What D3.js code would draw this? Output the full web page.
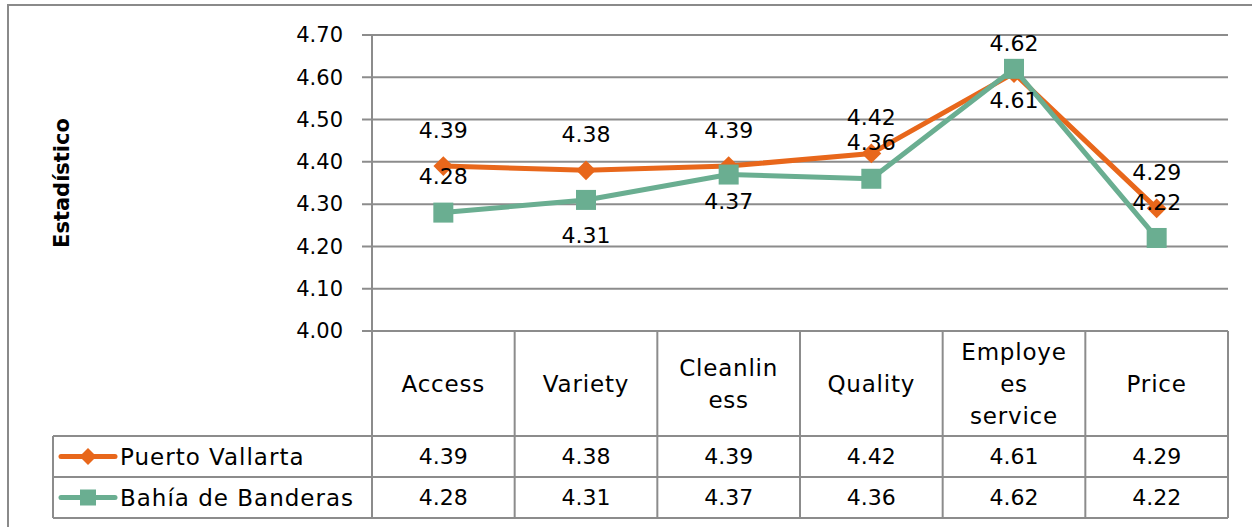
<!DOCTYPE html>
<html><head><meta charset="utf-8">
<script src="https://cdn.jsdelivr.net/npm/d3@7"></script>
<style>body{margin:0;background:#fff}svg{display:block}text{font-family:"DejaVu Sans",sans-serif}</style>
</head><body>
<svg id="c" width="1252" height="527"></svg>
<script>
const categories = ["Access","Variety","Cleanliness","Quality","Employees service","Price"];
const categoryLines = [["Access"],["Variety"],["Cleanlin","ess"],["Quality"],["Employe","es","service"],["Price"]];
const seriesNames = ["Puerto Vallarta","Bahía de Banderas"];
const puertoVallarta = [4.39,4.38,4.39,4.42,4.61,4.29];
const bahiaBanderas = [4.28,4.31,4.37,4.36,4.62,4.22];
const yTicks = [4.00,4.10,4.20,4.30,4.40,4.50,4.60,4.70];
// data label placement relative to the point
const pvLabelPos = ["above","above","above","above","below-near","above"];
const bbLabelPos = ["above","below","below-near","above","above-near","above"];

const svg = d3.select("#c");
const L = 372, R = 1228, T = 35, B = 331;
const fs = 22;
const grid = "#8c8c8c";
const orange = "#E8671B", green = "#6AAE91";
const labelDy = {"above":-36,"below":35,"above-near":-26,"below-near":27};

svg.append("rect").attr("x",8).attr("y",5).attr("width",1260).attr("height",540)
  .attr("fill","none").attr("stroke","#8a8a8a").attr("stroke-width",2);

const x = d3.scaleBand().domain(categories).range([L,R]);
const y = d3.scaleLinear().domain([4.0,4.7]).range([B,T]);

// gridlines
svg.append("g").selectAll("line").data(yTicks).join("line")
  .attr("x1",L-10).attr("x2",R).attr("y1",d=>y(d)).attr("y2",d=>y(d))
  .attr("stroke",grid).attr("stroke-width",2);

// y axis
const yAxis = d3.axisLeft(y).tickValues(yTicks).tickFormat(d3.format(".2f")).tickSize(0).tickPadding(29);
const ga = svg.append("g").attr("transform",`translate(${L},0)`).call(yAxis);
ga.select(".domain").remove();
ga.selectAll("text").attr("font-size",21).attr("fill","#000").attr("font-family","DejaVu Sans");
svg.append("line").attr("x1",L).attr("x2",L).attr("y1",T).attr("y2",B).attr("stroke",grid).attr("stroke-width",2);

svg.append("text").attr("transform",`translate(69,183) rotate(-90)`).attr("text-anchor","middle")
  .attr("font-size",21).attr("font-weight","bold").text("Estadístico");

// table
const rowTop = [436,477,518];
const tbl = svg.append("g");
const vlines = categories.map(c=>x(c)).concat([R]);
tbl.selectAll("line.v").data(vlines).join("line").attr("class","v")
  .attr("x1",d=>d).attr("x2",d=>d).attr("y1",B).attr("y2",rowTop[2]).attr("stroke",grid).attr("stroke-width",2);
tbl.append("line").attr("x1",L).attr("x2",R).attr("y1",B).attr("y2",B).attr("stroke",grid).attr("stroke-width",2);
tbl.selectAll("line.h").data(rowTop).join("line").attr("class","h")
  .attr("x1",53).attr("x2",R).attr("y1",d=>d).attr("y2",d=>d).attr("stroke",grid).attr("stroke-width",2);
tbl.append("line").attr("x1",53).attr("x2",53).attr("y1",rowTop[0]).attr("y2",rowTop[2]).attr("stroke",grid).attr("stroke-width",2);

// category labels
const lh = 32;
categories.forEach((c,i)=>{
  const lines = categoryLines[i];
  const cy = 384 - (lines.length-1)*lh/2;
  const t = tbl.append("text").attr("text-anchor","middle").attr("font-size",23).attr("letter-spacing",0.8);
  lines.forEach((ln,j)=>t.append("tspan").attr("x",x(c)+x.bandwidth()/2).attr("y",cy+j*lh).attr("dy","0.35em").text(ln));
});

const series = [
  {name:seriesNames[0], values:puertoVallarta, color:orange, shape:"diamond", pos:pvLabelPos},
  {name:seriesNames[1], values:bahiaBanderas, color:green, shape:"square", pos:bbLabelPos}
];

series.forEach((s,k)=>{
  const rowY = (rowTop[k]+rowTop[k+1])/2;
  const lg = tbl.append("g");
  lg.append("line").attr("x1",61).attr("x2",115).attr("y1",rowY).attr("y2",rowY).attr("stroke",s.color).attr("stroke-width",5).attr("stroke-linecap","round");
  if (s.shape==="diamond") lg.append("rect").attr("x",-6).attr("y",-6).attr("width",12).attr("height",12)
      .attr("transform",`translate(88,${rowY}) rotate(45)`).attr("fill",s.color);
  else lg.append("rect").attr("x",80).attr("y",rowY-8).attr("width",16).attr("height",16).attr("fill",s.color);
  lg.append("text").attr("x",120).attr("y",rowY).attr("dy","0.35em").attr("font-size",23).attr("letter-spacing",1).text(s.name);
  categories.forEach((c,i)=>{
    tbl.append("text").attr("x",x(c)+x.bandwidth()/2).attr("y",rowY).attr("dy","0.35em")
      .attr("text-anchor","middle").attr("font-size",fs).text(s.values[i].toFixed(2));
  });
});

// lines
const line = d3.line().x((d,i)=>x(categories[i])+x.bandwidth()/2).y(d=>y(d));
series.forEach(s=>{
  svg.append("path").datum(s.values).attr("d",line).attr("fill","none").attr("stroke",s.color).attr("stroke-width",5).attr("stroke-linejoin","round");
});
series.forEach(s=>{
  const g = svg.append("g");
  s.values.forEach((v,i)=>{
    const cx = x(categories[i])+x.bandwidth()/2, cy = y(v);
    if (s.shape==="diamond") g.append("rect").attr("x",-7).attr("y",-7).attr("width",14).attr("height",14)
      .attr("transform",`translate(${cx},${cy}) rotate(45)`).attr("fill",s.color);
    else g.append("rect").attr("x",cx-10).attr("y",cy-10).attr("width",20).attr("height",20).attr("fill",s.color);
  });
});
// data labels
series.forEach(s=>{
  s.values.forEach((v,i)=>{
    const cx = x(categories[i])+x.bandwidth()/2, cy = y(v);
    svg.append("text").attr("x",cx).attr("y",cy+labelDy[s.pos[i]]).attr("dy","0.35em")
      .attr("text-anchor","middle").attr("font-size",fs).text(v.toFixed(2));
  });
});
</script>
</body></html>
